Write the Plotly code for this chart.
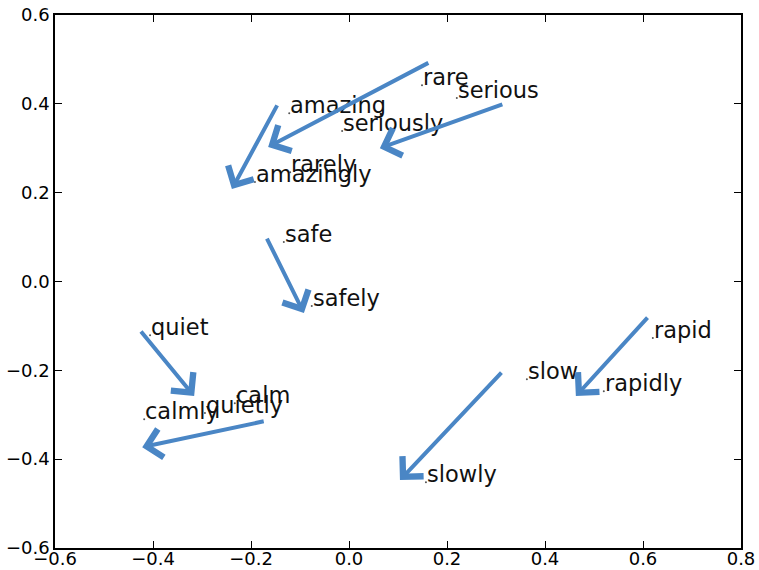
import plotly.graph_objects as go

# word positions
words = ["rare", "serious", "amazing", "seriously", "rarely", "amazingly",
         "safe", "safely", "quiet", "calm", "quietly", "calmly",
         "rapid", "slow", "rapidly", "slowly"]
word_x = [0.149, 0.220, -0.122, -0.014, -0.120, -0.192,
          -0.133, -0.076, -0.406, -0.233, -0.294, -0.418,
          0.620, 0.363, 0.520, 0.157]
word_y = [0.442, 0.413, 0.379, 0.339, 0.246, 0.224,
          0.089, -0.055, -0.121, -0.274, -0.296, -0.310,
          -0.127, -0.220, -0.247, -0.452]

# arrows (tail -> head)
arrow_x0 = [0.165, -0.145, 0.316, -0.169, -0.427, -0.171, 0.612, 0.314]
arrow_y0 = [0.494, 0.400, 0.400, 0.100, -0.109, -0.314, -0.078, -0.202]
arrow_x1 = [-0.165, -0.239, 0.063, -0.092, -0.316, -0.422, 0.463, 0.104]
arrow_y1 = [0.303, 0.208, 0.300, -0.071, -0.258, -0.373, -0.258, -0.447]

x_ticks = [-0.6, -0.4, -0.2, 0.0, 0.2, 0.4, 0.6, 0.8]
y_ticks = [-0.6, -0.4, -0.2, 0.0, 0.2, 0.4, 0.6]

ARROW_COLOR = "#4a86c5"

fig = go.Figure()
fig.add_trace(go.Scatter(x=word_x, y=word_y, mode="markers",
                         marker=dict(size=2, color="#555555"),
                         hoverinfo="skip", showlegend=False))

annotations = []
for w, x, y in zip(words, word_x, word_y):
    annotations.append(dict(x=x, y=y, xref="x", yref="y", text=w,
                            showarrow=False, xanchor="left", yanchor="bottom",
                            yshift=-7, xshift=-1,
                            font=dict(size=22.5, color="#111111")))
for x0, y0, x1, y1 in zip(arrow_x0, arrow_y0, arrow_x1, arrow_y1):
    annotations.append(dict(x=x1, y=y1, ax=x0, ay=y0, xref="x", yref="y",
                            axref="x", ayref="y", text="", showarrow=True,
                            arrowhead=4, arrowsize=1.4, arrowwidth=4,
                            arrowcolor=ARROW_COLOR, standoff=0))

axis_common = dict(showgrid=False, zeroline=False, showline=True,
                   linecolor="black", linewidth=1.5, mirror="ticks",
                   ticks="inside", ticklen=7, tickwidth=1, tickcolor="black",
                   tickformat=".1f", tickfont=dict(size=18, color="black"),
                   automargin=False)

fig.update_layout(
    width=759, height=570,
    margin=dict(l=55, r=18, t=15, b=22),
    paper_bgcolor="white", plot_bgcolor="white",
    font=dict(family="DejaVu Sans"),
    xaxis=dict(range=[-0.6, 0.8], tickvals=x_ticks, ticklabelstandoff=-6,
               **axis_common),
    yaxis=dict(range=[-0.6, 0.6], tickvals=y_ticks, **axis_common),
    annotations=annotations,
    showlegend=False,
)

fig.write_html("out.html", config={"displayModeBar": False},
               post_script="document.body.style.margin='0';document.body.style.overflow='hidden';")
